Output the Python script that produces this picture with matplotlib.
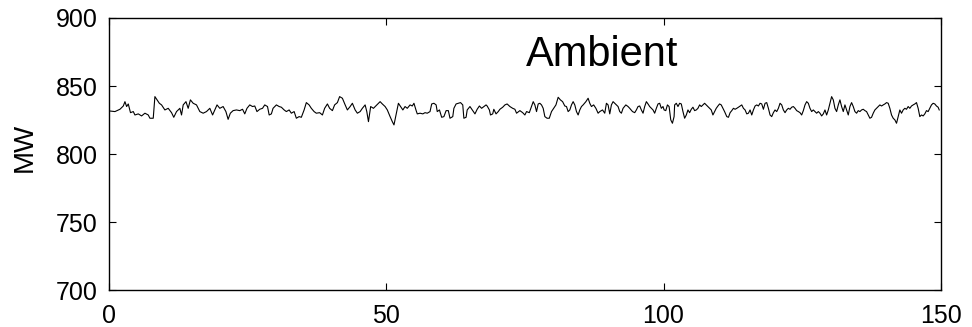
import matplotlib
matplotlib.use("Agg")
import matplotlib.pyplot as plt

plt.rcParams['font.family'] = ['Liberation Sans', 'DejaVu Sans']

# time (x) and power (MW)
t = [0.0, 1.1, 2.0, 2.6, 2.9, 3.2, 3.5, 3.9, 4.4, 4.7, 5.3, 5.9, 6.5, 7.1, 7.4, 8.0, 8.3, 8.7,
     9.1, 9.5, 10.1, 10.7, 11.3, 11.7, 12.2, 12.8, 13.1, 13.4, 13.9, 14.3, 14.7, 15.2, 15.8,
     16.4, 17.0, 17.6, 18.2, 18.7, 19.1, 19.5, 20.0, 20.6, 21.1, 21.5, 21.9, 22.4, 23.0,
     23.6, 24.1, 24.5, 24.9, 25.4, 25.9, 26.3, 26.7, 27.2, 27.7, 28.1, 28.6, 28.9, 29.3,
     29.6, 30.2, 30.7, 31.1, 31.6, 32.0, 32.5, 32.9, 33.4, 33.8, 34.3, 34.7, 35.2, 35.6,
     36.1, 36.5, 37.0, 37.4, 38.0, 38.5, 38.9, 39.4, 39.8, 40.3, 40.7, 41.2, 41.6, 42.1,
     42.6, 43.0, 43.5, 43.9, 44.4, 44.8, 45.3, 45.7, 46.2, 46.5, 46.8, 47.2, 47.7, 48.3,
     48.9, 49.3, 49.8, 50.2, 50.7, 51.1, 51.4, 51.7, 52.2, 52.6, 53.0, 53.4, 53.8, 54.3,
     54.7, 55.0, 55.4, 55.6, 56.1, 56.6, 57.0, 57.4, 57.9, 58.2, 58.6, 59.0, 59.2, 59.6,
     60.0, 60.4, 60.8, 61.2, 61.5, 62.0, 62.2, 62.6, 63.0, 63.4, 63.8, 64.0, 64.4, 64.6,
     65.1, 65.6, 66.0, 66.4, 66.8, 67.2, 67.6, 68.0, 68.2, 68.6, 68.8, 69.2, 69.4, 69.8,
     70.2, 70.5, 71.0, 71.4, 71.8, 72.3, 72.8, 73.2, 73.5,
     74.1, 74.6, 75.0, 75.3, 75.8, 76.2, 76.5, 76.8, 77.1, 77.4, 77.7, 78.0, 78.3, 78.6,
     79.0, 79.4, 79.8, 80.2, 80.6, 81.0, 81.4, 81.8, 82.2, 82.5, 82.8, 83.1, 83.4, 83.7,
     84.0, 84.3, 84.6, 84.9, 85.2, 85.5, 86.0, 86.4, 86.7, 87.0, 87.4, 87.8, 88.2, 88.5,
     89.0, 89.4, 89.7, 90.0, 90.3, 90.6, 90.9, 91.2, 91.5, 91.8, 92.1, 92.4, 92.7, 93.2,
     93.6, 93.9, 94.4, 94.8, 95.1, 95.4, 95.7, 96.0, 96.3, 96.6, 96.9, 97.2, 97.5, 97.8,
     98.1, 98.4, 98.7, 99.0, 99.3, 99.6, 99.9,
     100.1, 100.4, 100.7, 101.0, 101.3, 101.6, 101.9, 102.0, 102.3, 102.6, 102.9, 103.2,
     103.5, 103.8, 104.1, 104.4, 104.7, 105.0, 105.3, 105.6, 105.9, 106.2, 106.5, 106.8,
     107.1, 107.4, 107.7, 108.0, 108.3, 108.6, 108.9, 109.2, 109.5, 109.8, 110.1, 110.4,
     110.7, 111.0, 111.4, 111.7, 112.0, 112.3, 112.6, 112.9, 113.2, 113.5, 113.8, 114.1,
     114.4, 114.7, 115.0, 115.3, 115.6, 115.9, 116.2, 116.5, 116.8, 117.1, 117.4, 117.7,
     118.0, 118.3, 118.6, 118.9, 119.2, 119.5, 119.8, 120.1, 120.4, 120.7, 121.0, 121.3,
     121.6, 121.9, 122.2, 122.5, 122.8, 123.1, 123.4, 123.7, 124.0, 124.3, 124.6, 124.9,
     125.2,
     125.5, 125.8, 126.1, 126.4, 126.7, 127.0, 127.3, 127.6, 127.9, 128.2, 128.5, 128.8,
     129.1, 129.4, 129.7, 130.0, 130.3, 130.6, 130.9, 131.2, 131.5, 131.8, 132.1, 132.4,
     132.7, 133.0, 133.3, 133.6, 133.9, 134.2, 134.5, 134.8, 135.1, 135.4, 135.7, 136.0,
     136.3, 136.6, 136.9, 137.2, 137.5, 137.8, 138.1, 138.4, 138.7, 139.0, 139.3, 139.6,
     139.9, 140.2, 140.5, 140.8, 141.1, 141.4, 141.7, 142.0, 142.3, 142.6, 142.9, 143.2,
     143.5, 143.8, 144.1, 144.4, 144.7, 145.0, 145.3, 145.6, 145.9, 146.2, 146.5, 146.8,
     147.1, 147.4, 147.7, 148.0, 148.3, 148.6, 148.9, 149.2, 149.5, 149.7]

mw = [831.7, 831.2, 832.9, 835.3, 838.5, 834.9, 836.8, 830.4, 831.2, 828.7, 829.5, 828.0,
      830.0, 828.7, 826.3, 826.3, 842.2, 839.8, 837.3, 836.1, 832.4, 833.6, 830.4, 827.0,
      831.2, 833.6, 828.7, 836.1, 838.5, 833.6, 839.8, 837.3, 836.1, 831.2, 830.0, 831.2,
      833.6, 828.7, 832.4, 836.1, 833.6, 834.9, 831.2, 825.5, 830.0, 831.9, 832.4,
      831.9, 832.9, 829.5, 833.6, 836.1, 834.9, 835.3, 831.2, 832.9, 833.6, 836.1, 834.9,
      828.7, 829.5, 833.6, 836.1, 834.9, 834.4, 832.4, 831.2, 832.4, 830.0, 831.2, 826.3,
      827.5, 827.0, 832.4, 837.8, 836.1, 833.6, 831.2, 830.0, 830.4, 828.7, 833.6, 836.8,
      833.6, 831.9, 836.1, 837.8, 842.2, 841.0, 836.1, 832.4, 834.9, 837.3, 832.4, 830.0,
      831.2, 833.6, 836.1, 831.2, 823.8, 834.9, 833.6, 836.1,
      838.5, 836.8, 834.9, 832.4, 827.5, 823.8, 821.4, 827.5, 837.3, 834.9, 832.4, 834.9,
      833.6, 836.1, 835.3, 837.3, 831.9, 829.5, 830.0, 829.5, 830.4, 830.0, 831.2, 836.8,
      837.3, 836.1, 831.2, 832.4, 827.0, 827.5, 831.9, 831.9, 826.3, 827.5, 833.6, 836.8,
      837.3, 837.8, 836.1, 826.3, 827.0, 832.4, 834.9, 831.9, 829.5, 832.9, 835.3, 833.6,
      834.9, 836.1, 835.3, 832.4, 828.7, 829.5, 832.9, 829.5, 831.2, 832.9, 834.4, 836.1,
      836.8, 834.9, 833.6, 832.9, 830.0,
      831.9, 830.4, 828.7, 831.2, 830.4, 834.9, 838.5, 836.1, 831.2, 836.8, 837.3, 836.1,
      833.6, 827.5, 826.3, 826.3, 831.2, 833.6, 836.1, 841.7, 839.8, 838.5, 835.3, 834.9,
      831.2, 832.4, 836.1, 838.5, 836.1, 831.2, 828.7, 832.4, 834.9, 836.1, 838.5, 841.0,
      837.3, 834.9, 836.1, 833.6, 830.0, 831.2, 832.4, 830.0, 837.3, 836.1, 829.5, 836.1,
      838.5, 837.3, 836.1, 834.9, 831.2, 830.0, 833.6, 836.1, 834.9, 833.6, 831.2, 830.4,
      832.4, 834.9, 835.3, 832.4, 830.0, 834.9, 838.5, 836.8, 834.9, 833.6, 832.4, 830.0,
      833.6, 836.8, 837.3, 833.6, 834.9,
      832.4, 831.9, 836.1, 834.9, 825.1, 822.6, 827.5, 836.1, 837.3, 834.9, 837.3, 836.8,
      831.2, 826.3, 828.7, 832.4, 830.4, 832.9, 834.4, 831.9, 832.4, 833.6, 836.1, 834.9,
      836.1, 837.3, 836.1, 834.9, 833.6, 832.4, 828.7, 831.2, 833.6, 835.3, 836.8, 836.1,
      833.6, 831.2, 827.5, 827.0, 830.4, 831.9, 833.6, 832.9, 833.6, 834.4, 835.3, 836.1,
      833.6, 832.4, 829.5, 830.0, 832.4, 828.7, 832.4, 835.3, 836.1, 835.3, 837.3, 836.8,
      832.9, 837.3, 837.8, 833.6, 828.7, 827.5, 830.4, 832.4, 831.2, 833.6, 837.3, 836.1,
      832.4, 830.4, 832.4, 833.6, 832.9, 834.4, 834.9, 833.6, 831.9, 831.2, 830.4, 828.7,
      831.9,
      836.1, 838.5, 837.3, 833.6, 831.2, 832.4, 831.2, 830.0, 831.2, 830.0, 828.0, 829.5,
      832.4, 828.7, 832.4, 837.3, 842.2, 839.8, 833.6, 831.2, 836.1, 839.8, 834.9, 831.2,
      836.1, 832.4, 828.7, 834.9, 837.8, 834.9, 831.2, 830.0, 831.9, 831.2, 832.4, 832.9,
      831.9, 831.2, 828.7, 826.3, 827.0, 830.0, 832.4, 833.6, 834.9, 836.1, 835.3, 836.1,
      836.8, 837.8, 837.3, 833.6, 828.7, 826.3, 825.1, 822.6, 827.5, 832.4, 830.0, 832.4,
      833.6, 832.9, 834.9, 833.6, 835.3, 836.1, 836.8, 837.8, 833.6, 827.5, 828.7, 828.0,
      829.5, 831.9, 831.2, 833.6, 836.1, 837.3, 836.8, 835.3, 834.4, 832.4]

xticks = [0, 50, 100, 150]
yticks = [700, 750, 800, 850, 900]
title_text = "Ambient"
ylabel_text = "MW"

fig = plt.figure(figsize=(9.72, 3.27), dpi=100)
ax = fig.add_axes([0.112, 0.113, 0.856, 0.832])
ax.plot(t, mw, color='black', linewidth=0.8)
ax.set_xlim(0, 150)
ax.set_ylim(700, 900)
ax.set_xticks(xticks)
ax.set_yticks(yticks)
ax.tick_params(direction='in', length=5, width=0.8, top=True, right=True,
               labelsize=18, pad=8)
ax.tick_params(axis='x', pad=10)
for s in ax.spines.values():
    s.set_linewidth(1.0)
ax.set_ylabel(ylabel_text, fontsize=20)
ax.yaxis.set_label_coords(-0.085, 0.525)
ax.text(89.0, 864.7, title_text, fontsize=30, ha='center', va='baseline')
fig.savefig("out.png", dpi=100)
